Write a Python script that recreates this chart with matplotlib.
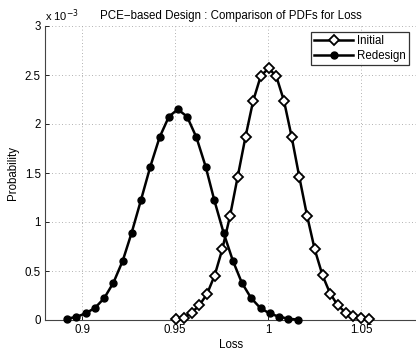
import matplotlib
matplotlib.use("Agg")
import matplotlib.pyplot as plt

# Loss samples and PDF values (probability in units of 1e-3)
loss_initial = [0.9505, 0.9546, 0.9588, 0.9629, 0.9671, 0.9712, 0.9753, 0.9795,
                0.9836, 0.9878, 0.9919, 0.9960, 1.0002, 1.0043, 1.0085, 1.0126,
                1.0167, 1.0209, 1.0250, 1.0292, 1.0333, 1.0374, 1.0416, 1.0457,
                1.0499, 1.0540]
prob_initial = [0.010, 0.023, 0.074, 0.148, 0.265, 0.454, 0.721, 1.064,
                1.462, 1.870, 2.235, 2.490, 2.568, 2.490, 2.235, 1.870,
                1.462, 1.064, 0.721, 0.456, 0.270, 0.150, 0.076, 0.038,
                0.017, 0.010]

loss_redesign = [0.8919, 0.8969, 0.9018, 0.9068, 0.9118, 0.9168, 0.9218, 0.9266,
                 0.9316, 0.9366, 0.9416, 0.9466, 0.9514, 0.9564, 0.9614, 0.9664,
                 0.9710, 0.9760, 0.9810, 0.9858, 0.9908, 0.9959, 1.0007, 1.0057,
                 1.0107, 1.0158]
prob_redesign = [0.014, 0.031, 0.068, 0.122, 0.222, 0.381, 0.605, 0.891,
                 1.224, 1.564, 1.864, 2.075, 2.150, 2.075, 1.864, 1.564,
                 1.224, 0.891, 0.605, 0.381, 0.224, 0.120, 0.068, 0.034,
                 0.014, 0.004]

x_ticks = [0.9, 0.95, 1.0, 1.05]
x_tick_labels = ["0.9", "0.95", "1", "1.05"]
y_ticks = [0, 0.5, 1, 1.5, 2, 2.5, 3]
y_tick_labels = ["0", "0.5", "1", "1.5", "2", "2.5", "3"]

plt.rcParams["font.family"] = ["Liberation Sans", "DejaVu Sans"]
plt.rcParams["font.size"] = 8.3

fig = plt.figure(figsize=(4.16, 3.51), dpi=100)
ax = fig.add_axes([45 / 416, 31 / 351, 372 / 416, 294 / 351])

ax.plot(loss_initial, prob_initial, color="black", lw=1.8, marker="D",
        markersize=5.2, markerfacecolor="white", markeredgecolor="black",
        markeredgewidth=1.3, label="Initial", clip_on=False, zorder=3)
ax.plot(loss_redesign, prob_redesign, color="black", lw=1.8, marker="o",
        markersize=5, markerfacecolor="black", markeredgecolor="black",
        label="Redesign", clip_on=False, zorder=3)

ax.set_xlim(0.88, 1.08)
ax.set_ylim(0, 3)
ax.set_xticks(x_ticks)
ax.set_xticklabels(x_tick_labels)
ax.set_yticks(y_ticks)
ax.set_yticklabels(y_tick_labels)

ax.grid(True, linestyle=(0, (1, 3)), color="#999999", linewidth=0.6)
ax.set_axisbelow(True)
ax.tick_params(direction="in", length=3, width=0.6, colors="black", pad=3)
for side in ("top", "right"):
    ax.spines[side].set_visible(False)
for side in ("left", "bottom"):
    ax.spines[side].set_color("#444444")
    ax.spines[side].set_linewidth(0.8)

ax.set_title("PCE\u2212based Design : Comparison of PDFs for Loss", fontsize=8.3, pad=5)
ax.set_xlabel("Loss", labelpad=2)
ax.set_ylabel("Probability", labelpad=4)
ax.text(0.0, 1.008, "x 10$^{-3}$", transform=ax.transAxes, fontsize=8,
        ha="left", va="bottom")

leg = ax.legend(loc="upper right", bbox_to_anchor=(1 - 8 / 372, 1 - 6 / 294),
                frameon=True, fancybox=False, borderpad=0.3, labelspacing=0.2,
                handlelength=3.4, handletextpad=0.3, borderaxespad=0)
leg.get_frame().set_edgecolor("black")
leg.get_frame().set_linewidth(0.9)

fig.savefig("out.png", dpi=100)
